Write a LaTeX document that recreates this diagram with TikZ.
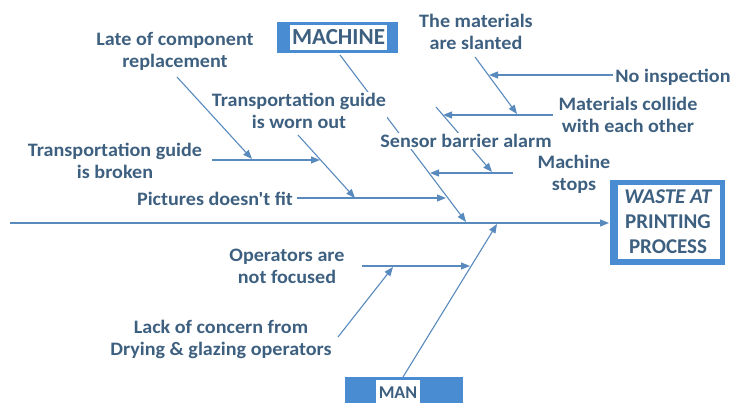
\documentclass[tikz,border=0pt]{standalone}
\usepackage{fontspec}
\setmainfont{Carlito}
\newfontfamily\lblfont{Carlito}[FakeStretch=1.06]
\usetikzlibrary{arrows.meta}
\definecolor{textc}{RGB}{62,96,128}
\definecolor{linec}{RGB}{88,138,190}
\definecolor{boxc}{RGB}{74,140,210}
\begin{document}
\begin{tikzpicture}[x=1pt,y=-1pt,
  lbl/.style={font=\lblfont\fontsize{19}{22}\selectfont\bfseries, text=textc, align=center, inner sep=1pt},
  bone/.style={draw=linec, line width=1.1pt},
  arr/.style={bone, -{Triangle[length=9pt,width=7pt]}},
  hide/.style={fill=white}]
\useasboundingbox (0,0) rectangle (732,403);
% coordinates
\coordinate (S0) at (10,223);   \coordinate (S1) at (609,223);
\coordinate (M0) at (340,55);   \coordinate (M1) at (466,222);
\coordinate (N0) at (403,377);  \coordinate (N1) at (497,224);
\coordinate (P0) at (297,198);  \coordinate (P1) at (446,198);
\coordinate (W0) at (298,135);  \coordinate (W1) at (355,198);
\coordinate (B0) at (212,160);  \coordinate (B1) at (320,160);
\coordinate (L0) at (177,77);   \coordinate (L1) at (252,159);
\coordinate (T0) at (513,173);  \coordinate (T1) at (430,173);
\coordinate (E0) at (436,107);  \coordinate (E1) at (492,172);
\coordinate (C0) at (553,115);  \coordinate (C1) at (443,115);
\coordinate (A0) at (475,57);   \coordinate (A1) at (517,114);
\coordinate (I0) at (613,75);   \coordinate (I1) at (489,75);
\coordinate (O0) at (362,266);  \coordinate (O1) at (470,266);
\coordinate (K0) at (338,337);  \coordinate (K1) at (393,267);
% boxes
\node[fill=boxc, minimum width=121pt, minimum height=31pt, inner sep=0] (machbox) at (337.5,37.5) {};
\node[fill=white, minimum width=97pt, minimum height=25pt, inner sep=0,
      font=\fontsize{23}{25}\selectfont\bfseries, text=textc] (mach) at (338.5,37.5) {MACHINE};
\node[fill=boxc, minimum width=118pt, minimum height=40pt, inner sep=0] (manbox) at (404,397) {};
\node[fill=white, minimum width=44pt, minimum height=30pt, inner sep=0] (manw) at (398,395) {};
\node[anchor=base, font=\fontsize{18}{20}\selectfont\bfseries, text=textc, inner sep=0] (man) at (398,398.5) {MAN};
\node[draw=boxc, line width=5.5pt, fill=white, minimum width=109.5pt, minimum height=79.5pt, inner sep=0] (waste) at (667.5,222.5) {};
\fill[boxc] (610,180) rectangle (618,265);
\node[align=center, text=textc, font=\fontsize{21}{25}\selectfont\bfseries, inner sep=0] (wastetxt) at (668,222) {\itshape WASTE AT\\PRINTING\\PROCESS};
% spine and hidden-behind-label lines
\draw[arr, line width=1.3pt] (S0) -- (S1);
\draw[arr] (M0) -- (M1);
\draw[arr] (E0) -- (E1);
% labels
\node[lbl] (late) at (175,51) {Late of component\\replacement};
\node[lbl] (slant) at (476,31.5) {The materials\\are slanted};
\node[lbl] (noinsp) at (673,77) {No inspection};
\node[lbl, hide] (worn) at (299,111) {Transportation guide\\is worn out};
\node[lbl] (collide) at (628,114.5) {Materials collide\\with each other};
\node[lbl] (broken) at (115,161) {Transportation guide\\is broken};
\node[lbl, hide] (sensor) at (466,141) {Sensor barrier alarm};
\node[lbl] (mstops) at (574,174) {Machine\\stops};
\node[lbl] (pict) at (215,199) {Pictures doesn\symbol{39}t fit};
\node[lbl] (oper) at (287,266.5) {Operators are\\not focused};
\node[lbl] (lack) at (221,339) {Lack of concern from\\Drying \& glazing operators};
% other connectors
\draw[arr] (N0) -- (N1);
\draw[arr] (P0) -- (P1);
\draw[arr] (W0) -- (W1);
\draw[arr] (B0) -- (B1);
\draw[arr] (L0) -- (L1);
\draw[arr] (T0) -- (T1);
\draw[arr] (C0) -- (C1);
\draw[arr] (A0) -- (A1);
\draw[arr] (I0) -- (I1);
\draw[arr] (O0) -- (O1);
\draw[arr] (K0) -- (K1);
\end{tikzpicture}
\end{document}
